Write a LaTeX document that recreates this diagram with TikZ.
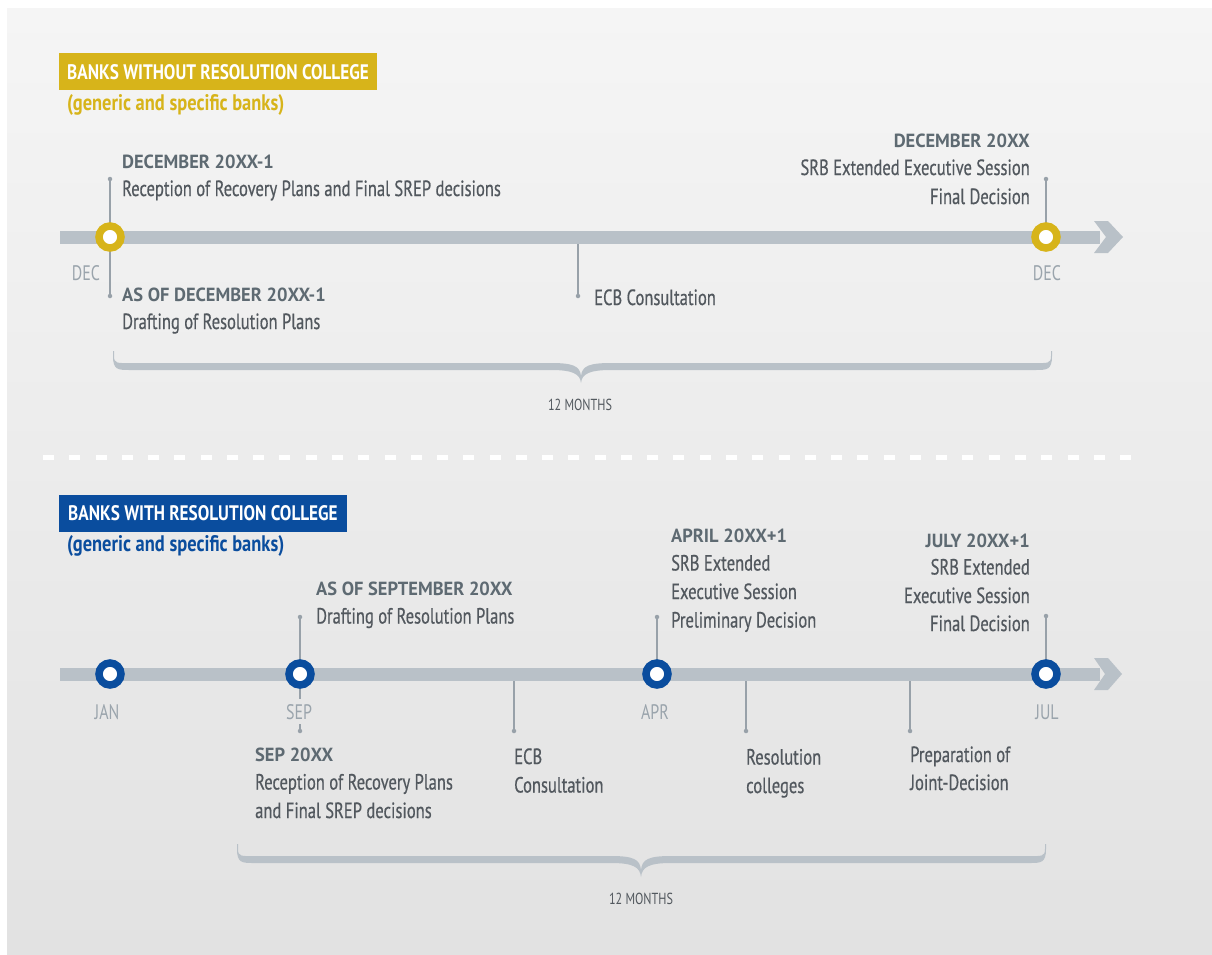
\documentclass[tikz,border=0pt]{standalone}
\usepackage{fontspec}
\setmainfont{PT Sans}
\newfontfamily\condfont{PT Sans}[FakeStretch=0.752,FakeBold=0.5]
\newfontfamily\monthfont{PT Sans}[FakeStretch=0.76]
\newfontfamily\titlefont{PT Sans}[FakeStretch=0.82]
\newfontfamily\semifont{PT Sans}[FakeStretch=0.97]
\definecolor{panelTop}{HTML}{F5F5F5}
\definecolor{panelBot}{HTML}{E2E2E2}
\definecolor{gold}{HTML}{D7B41A}
\definecolor{navy}{HTML}{0A4D9E}
\definecolor{barc}{HTML}{B9C1C8}
\definecolor{txt}{HTML}{52585E}
\definecolor{headc}{HTML}{5E6A72}
\definecolor{monthc}{HTML}{9AA4AC}
\definecolor{tickc}{HTML}{98A1A9}
\newcommand\mybrace[6]{% xl xm xr ytop ybar ytip
  \fill[barc] ({#1-1},#4) -- ({#1-1},{#4+5})
    .. controls ({#1-1},{#5+4}) and ({#1+4},{#5+4}) .. ({#1+16},{#5+4})
    -- ({#2-30},{#5+4}) .. controls ({#2-8},{#5+4}) and ({#2-1},{#5+8}) .. (#2,#6)
    .. controls ({#2+1},{#5+8}) and ({#2+8},{#5+4}) .. ({#2+30},{#5+4})
    -- ({#3-16},{#5+4}) .. controls ({#3-4},{#5+4}) and ({#3+1},{#5+4}) .. ({#3+1},{#4+5})
    -- ({#3+1},#4) -- (#3,#4) -- (#3,{#4+5})
    .. controls (#3,{#5-2}) and ({#3-4},{#5-3}) .. ({#3-16},{#5-3})
    -- ({#2+30},{#5-3}) .. controls ({#2+8},{#5-3}) and ({#2+1},{#5}) .. (#2,{#6-7})
    .. controls ({#2-1},{#5}) and ({#2-8},{#5-3}) .. ({#2-30},{#5-3})
    -- ({#1+16},{#5-3}) .. controls ({#1+4},{#5-3}) and (#1,{#5-2}) .. (#1,{#4+5})
    -- (#1,#4) -- cycle;}
\begin{document}
\begin{tikzpicture}[x=1pt,y=-1pt,
  body/.style={inner sep=0, text=txt, font=\condfont\fontsize{22}{28}\selectfont},
  bodyl/.style={body, anchor=base west},
  bodyr/.style={body, anchor=base east},
  head/.style={inner sep=0, text=headc, font=\semifont\bfseries\fontsize{19}{22}\selectfont},
  headl/.style={head, anchor=base west},
  headr/.style={head, anchor=base east},
  month/.style={inner sep=0, anchor=base, text=monthc, font=\monthfont\fontsize{21}{24}\selectfont},
  months/.style={inner sep=0, anchor=base, text=txt, font=\monthfont\fontsize{16}{18}\selectfont},
  titletext/.style={inner sep=0, anchor=base west, text=white, font=\titlefont\bfseries\fontsize{21}{24}\selectfont},
  subtitle/.style={inner sep=0, anchor=base west, font=\titlefont\bfseries\fontsize{22.5}{26}\selectfont},
  bar/.style={barc, line width=13pt},
  tick/.style={tickc, line width=1.4pt},
  dot/.style={circle, fill=tickc, inner sep=0, minimum size=4.5pt},
  ring/.style={circle, draw=#1, fill=white, line width=7.5pt, minimum size=22pt, inner sep=0},
  chevron/.style={fill=barc}
]
\useasboundingbox (0,0) rectangle (1212,954);
\fill[white] (0,0) rectangle (1212,954);
\fill[top color=panelTop, bottom color=panelBot] (7,8) rectangle (1212,954);

% ================= TOP SECTION =================
\fill[gold] (59,53) rectangle (377,90);
\node[titletext] (t1) at (67,79) {BANKS WITHOUT RESOLUTION COLLEGE};
\node[subtitle, text=gold] (s1) at (67,110) {(generic and specific banks)};

\coordinate (a0) at (60,237);
\coordinate (a1) at (1100,237);
\node[dot] (d1u) at (110,179) {};
\node[dot] (d1d) at (110,296) {};
\node[dot] (d2) at (578,296) {};
\node[dot] (d3u) at (1046,179) {};
\coordinate (b2) at (578,237);
\draw[tick] (d1u) -- (d1d);
\draw[tick] (b2) -- (d2);
\draw[tick] (d3u) -- (1046,237);

\draw[bar] (a0) -- (a1);
\fill[chevron] (1094,221) -- (1108,221) -- (1123,237) -- (1108,253) -- (1094,253) -- (1106,237) -- cycle;

\node[ring=gold] (c1) at (110,237) {};
\node[ring=gold] (c3) at (1046,237) {};

\node[month] (m1) at (86,280) {DEC};
\node[month] (m3) at (1047,280) {DEC};

\node[headl] (h1) at (122,168) {DECEMBER 20XX-1};
\node[bodyl] (l1) at (122,196) {Reception of Recovery Plans and Final SREP decisions};
\node[headl] (h2) at (122,301) {AS OF DECEMBER 20XX-1};
\node[bodyl] (l2) at (122,329) {Drafting of Resolution Plans};
\node[bodyl] (l3) at (594,305) {ECB Consultation};
\node[headr] (h4) at (1030,147) {DECEMBER 20XX};
\node[bodyr] (l4a) at (1030,175) {SRB Extended Executive Session};
\node[bodyr] (l4b) at (1030,204) {Final Decision};

\mybrace{114}{581}{1051}{351}{366}{383}
\node[months] (mo1) at (580,410) {12 MONTHS};

% dashed separator
\draw[white, line width=5pt, dash pattern=on 11pt off 15.27pt] (43,457) -- (1133,457);

% ================= BOTTOM SECTION =================
\fill[navy] (59,495) rectangle (347,532);
\node[titletext] (t2) at (68,520) {BANKS WITH RESOLUTION COLLEGE};
\node[subtitle, text=navy] (s2) at (67,551) {(generic and specific banks)};

\coordinate (e0) at (60,674);
\coordinate (e1) at (1100,674);
\node[dot] (sepu) at (300,617) {};
\coordinate (sepm) at (300,699);
\coordinate (sepn) at (300,724);
\node[dot] (sepd) at (300,731) {};
\node[dot] (ecbd) at (514,731) {};
\coordinate (ecbb) at (514,674);
\node[dot] (apru) at (657,617) {};
\node[dot] (resd) at (746,731) {};
\coordinate (resb) at (746,674);
\node[dot] (prepd) at (910,731) {};
\coordinate (prepb) at (910,674);
\node[dot] (julu) at (1046,616) {};

\draw[tick] (sepu) -- (sepm);
\draw[tick] (sepn) -- (sepd);
\draw[tick] (ecbb) -- (ecbd);
\draw[tick] (apru) -- (657,674);
\draw[tick] (resb) -- (resd);
\draw[tick] (prepb) -- (prepd);
\draw[tick] (julu) -- (1046,674);

\draw[bar] (e0) -- (e1);
\fill[chevron] (1094,658) -- (1108,658) -- (1122,674) -- (1108,690) -- (1094,690) -- (1105,674) -- cycle;

\node[ring=navy] (cj) at (110,674) {};
\node[ring=navy] (cs) at (300,674) {};
\node[ring=navy] (ca) at (657,674) {};
\node[ring=navy] (cl) at (1046,674) {};

\node[month] (mj) at (107,719) {JAN};
\node[month] (ms) at (299,719) {SEP};
\node[month] (ma) at (655,719) {APR};
\node[month] (ml) at (1047,719) {JUL};

\node[headl] (h5) at (316,595) {AS OF SEPTEMBER 20XX};
\node[bodyl] (l5) at (316,623.5) {Drafting of Resolution Plans};

\node[headl] (h6) at (255,761) {SEP 20XX};
\node[bodyl] (l6a) at (255,789.5) {Reception of Recovery Plans};
\node[bodyl] (l6b) at (255,818) {and Final SREP decisions};

\node[bodyl] (l7a) at (514,764) {ECB};
\node[bodyl] (l7b) at (514,792.5) {Consultation};

\node[headl] (h8) at (671,542) {APRIL 20XX+1};
\node[bodyl] (l8a) at (671,570.5) {SRB Extended};
\node[bodyl] (l8b) at (671,599) {Executive Session};
\node[bodyl] (l8c) at (671,627.5) {Preliminary Decision};

\node[bodyl] (l9a) at (746,764.5) {Resolution};
\node[bodyl] (l9b) at (746,793) {colleges};

\node[bodyl] (l10a) at (910,762) {Preparation of};
\node[bodyl] (l10b) at (910,790) {Joint-Decision};

\node[headr] (h11) at (1030,547) {JULY 20XX+1};
\node[bodyr] (l11a) at (1030,574.5) {SRB Extended};
\node[bodyr] (l11b) at (1030,603) {Executive Session};
\node[bodyr] (l11c) at (1030,631) {Final Decision};

\mybrace{238}{641}{1045}{844}{859}{877}
\node[months] (mo2) at (641,904) {12 MONTHS};
\end{tikzpicture}
\end{document}
